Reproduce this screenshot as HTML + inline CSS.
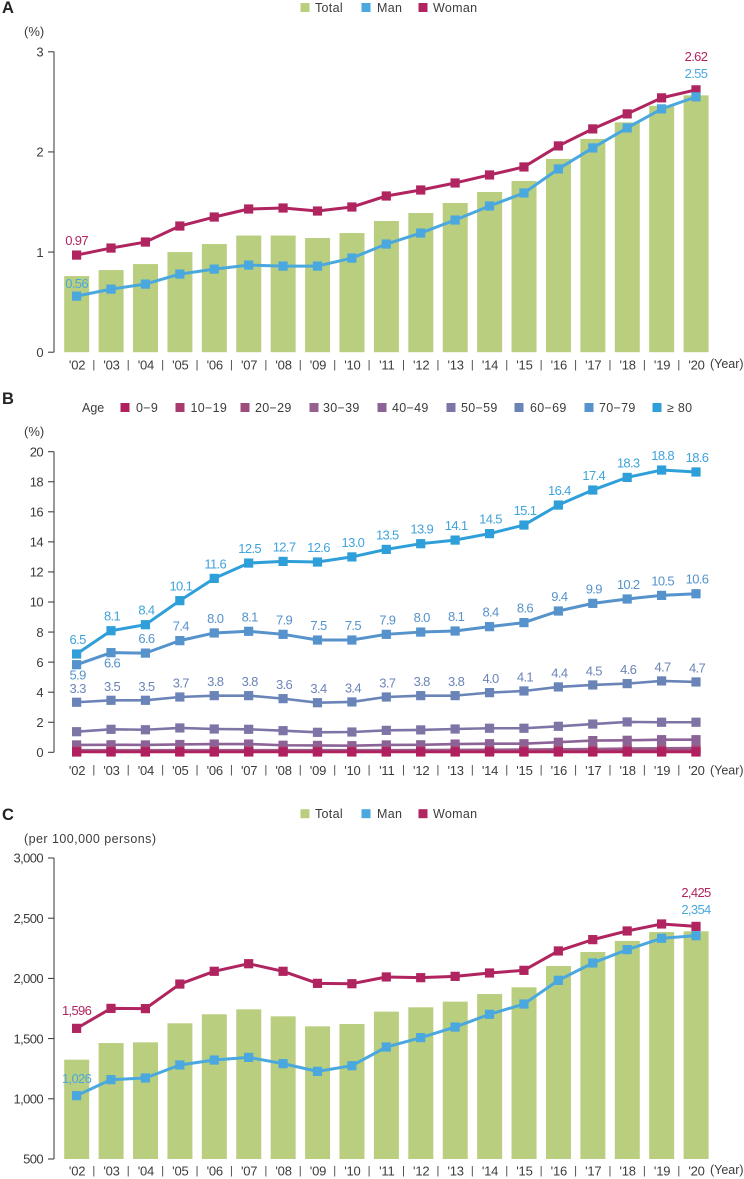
<!DOCTYPE html>
<html lang="en">
<head>
<meta charset="utf-8">
<title>Trends by sex and age</title>
<style>
html,body{margin:0;padding:0;background:#fff;}
body{width:744px;height:1179px;overflow:hidden;}
svg{display:block;font-family:"Liberation Sans",Arial,sans-serif;}
</style>
</head>
<body>
<svg id="figure" width="744" height="1179" viewBox="0 0 744 1179" xmlns="http://www.w3.org/2000/svg">
  <text x="2" y="13" font-size="16.5" font-weight="bold" fill="#222">A</text>
  <text x="2" y="404" font-size="16.5" font-weight="bold" fill="#222">B</text>
  <text x="2" y="820" font-size="16.5" font-weight="bold" fill="#222">C</text>
  <text x="24" y="36" font-size="13" fill="#3c3c3c">(%)</text>
  <text x="24" y="436" font-size="13" fill="#3c3c3c">(%)</text>
  <text x="24" y="843" font-size="12.5" letter-spacing="0.45" fill="#3c3c3c">(per 100,000 persons)</text>
  <text x="82" y="412" font-size="12.5" fill="#3c3c3c">Age</text>
  <g id="layer"></g>
</svg>
<script>
// Shared categories
const years = ["'02","'03","'04","'05","'06","'07","'08","'09","'10","'11","'12","'13","'14","'15","'16","'17","'18","'19","'20"];

// Panel A (%)
const aTicks = [0,1,2,3];
const aTotal = [0.76,0.82,0.88,1.0,1.08,1.165,1.165,1.14,1.19,1.31,1.39,1.49,1.6,1.71,1.93,2.13,2.295,2.46,2.565];
const aWoman = [0.97,1.04,1.1,1.26,1.35,1.43,1.44,1.41,1.45,1.56,1.62,1.69,1.77,1.85,2.06,2.23,2.38,2.54,2.62];
const aMan = [0.56,0.63,0.68,0.78,0.83,0.87,0.86,0.86,0.94,1.08,1.19,1.32,1.46,1.59,1.83,2.04,2.24,2.43,2.55];

// Panel B (%)
const bTicks = [0,2,4,6,8,10,12,14,16,18,20];
const ageGroups = ["0-9","10-19","20-29","30-39","40-49","50-59","60-69","70-79","≥ 80"];
const age0 = [0.02,0.02,0.02,0.02,0.02,0.02,0.02,0.02,0.02,0.02,0.02,0.02,0.02,0.02,0.02,0.02,0.02,0.02,0.02];
const age10 = [0.04,0.04,0.04,0.04,0.04,0.04,0.04,0.04,0.04,0.04,0.04,0.04,0.05,0.05,0.06,0.06,0.07,0.07,0.07];
const age20 = [0.08,0.08,0.08,0.08,0.08,0.08,0.08,0.08,0.08,0.08,0.09,0.09,0.1,0.1,0.11,0.12,0.13,0.14,0.14];
const age30 = [0.14,0.14,0.14,0.14,0.14,0.14,0.14,0.14,0.14,0.14,0.15,0.16,0.17,0.18,0.2,0.22,0.25,0.27,0.28];
const age40 = [0.49,0.5,0.49,0.52,0.55,0.55,0.47,0.46,0.44,0.49,0.5,0.55,0.57,0.57,0.67,0.78,0.8,0.84,0.84];
const age50 = [1.37,1.53,1.5,1.62,1.55,1.53,1.44,1.33,1.35,1.46,1.49,1.55,1.6,1.6,1.73,1.88,2.02,2.0,2.0];
const age60 = [3.33,3.46,3.46,3.68,3.77,3.77,3.57,3.3,3.35,3.68,3.77,3.77,3.97,4.08,4.35,4.48,4.57,4.75,4.68];
const age70 = [5.83,6.63,6.6,7.43,7.94,8.05,7.85,7.47,7.47,7.85,8.0,8.07,8.36,8.63,9.4,9.91,10.2,10.44,10.55];
const age80 = [6.54,8.09,8.49,10.09,11.57,12.59,12.7,12.66,13.0,13.5,13.88,14.12,14.55,15.12,16.45,17.45,18.29,18.78,18.65];
const age60Labels = ["3.3","3.5","3.5","3.7","3.8","3.8","3.6","3.4","3.4","3.7","3.8","3.8","4.0","4.1","4.4","4.5","4.6","4.7","4.7"];
const age70Labels = ["5.9","6.6","6.6","7.4","8.0","8.1","7.9","7.5","7.5","7.9","8.0","8.1","8.4","8.6","9.4","9.9","10.2","10.5","10.6"];
const age80Labels = ["6.5","8.1","8.4","10.1","11.6","12.5","12.7","12.6","13.0","13.5","13.9","14.1","14.5","15.1","16.4","17.4","18.3","18.8","18.6"];

// Panel C (per 100,000 persons)
const cTicks = [500,1000,1500,2000,2500,3000];
const cTotal = [1325,1463,1469,1627,1702,1743,1685,1602,1621,1724,1760,1807,1870,1926,2103,2219,2311,2385,2391];
const cWoman = [1585,1751,1749,1953,2059,2122,2059,1959,1956,2012,2006,2017,2045,2067,2228,2322,2394,2452,2432];
const cMan = [1026,1159,1173,1281,1322,1344,1292,1228,1275,1430,1508,1596,1702,1787,1984,2128,2239,2333,2355];

const NS = 'http://www.w3.org/2000/svg';
const layer = document.getElementById('layer');
const GREEN = '#b9ce7f', BLUE = '#4ba8de', RED = '#b0245f', INK = '#3c3c3c';
const ageColors = ['#b0205f','#a93a6e','#9d4d7d','#96608f','#8c6396','#7e74a6','#6b84b8','#5692cb','#2f9fd9'];
const ageSeries = [age0,age10,age20,age30,age40,age50,age60,age70,age80];

function el(tag, attrs, text){
  const e = document.createElementNS(NS, tag);
  for (const k in attrs) e.setAttribute(k, attrs[k]);
  if (text !== undefined) e.textContent = text;
  layer.appendChild(e);
  return e;
}
const xPos = i => 76.6 + i * (696 - 76.6) / (years.length - 1);
function scale(dMin, dMax, pxBottom, pxTop){
  return v => pxBottom - (v - dMin) / (dMax - dMin) * (pxBottom - pxTop);
}
function fmt(v){ return v.toLocaleString('en-US'); }

function drawAxes(prefix, ticks, y, sepTop, sepBottom, labelBase, yearBase){
  const axis = el('line', {x1:54, x2:54, y1:y(ticks[ticks.length-1]), y2:y(ticks[0]), stroke:'#333', 'stroke-width':1});
  
  
  ticks.forEach(t => {
    const m = el('line', {x1:48, x2:54, y1:y(t), y2:y(t), stroke:'#333', 'stroke-width':1});
    
    
    const l = el('text', {x:43, y:y(t)+4.7, 'font-size':13, 'letter-spacing':-0.6, 'text-anchor':'end', fill:INK}, fmt(t));
    
    
  });
  years.forEach((yr, i) => {
    const l = el('text', {x:xPos(i)+0.5, y:labelBase, 'font-size':13, 'letter-spacing':-0.2, 'text-anchor':'middle', fill:INK}, yr);
    
    
    if (i < years.length - 1) {
      const sx = (xPos(i) + xPos(i+1)) / 2;
      const s = el('line', {x1:sx, x2:sx, y1:sepTop, y2:sepBottom, stroke:'#555', 'stroke-width':1});
      
      
    }
  });
  const yl = el('text', {x:710, y:yearBase, 'font-size':12.5, fill:INK}, '(Year)');
  
  
}

function drawBars(prefix, values, y, base){
  values.forEach((v, i) => {
    const b = el('rect', {x:xPos(i)-12.4, y:y(v), width:25, height:y(base)-y(v), fill:GREEN});
    
    
  });
}

function drawLine(prefix, name, values, y, color, width){
  const pts = values.map((v, i) => xPos(i).toFixed(2) + ',' + y(v).toFixed(2)).join(' ');
  const p = el('polyline', {points:pts, fill:'none', stroke:color, 'stroke-width':width, 'stroke-linejoin':'round'});
  
  
  values.forEach((v, i) => {
    const r = el('rect', {x:xPos(i)-4.6, y:y(v)-4.6, width:9.2, height:9.2, fill:color});
    
    
  });
}

function label(prefix, x, yy, txt, color){
  const t = el('text', {x:x, y:yy, 'font-size':13, 'letter-spacing':-0.65, 'text-anchor':'middle', fill:color}, txt);
  
  
}

function legendItem(prefix, name, sx, tx, cy, color){
  const s = el('rect', {x:sx-4.5, y:cy-4.5, width:9, height:9, fill:color});
  
  
  const t = el('text', {x:tx, y:cy+4.5, 'font-size':12.5, 'letter-spacing':0.3, fill:INK}, name);
  
  
}

function sexLegend(prefix, cy){
  legendItem(prefix, 'Total', 305, 315, cy, GREEN);
  legendItem(prefix, 'Man', 366, 377, cy, BLUE);
  legendItem(prefix, 'Woman', 423, 433, cy, RED);
}

// Panel A
const yA = scale(0, 3, 352.2, 51.8);
sexLegend('panel-a', 7.5);
drawAxes('panel-a', aTicks, yA, 360, 370.5, 369.5, 368);
drawBars('panel-a', aTotal, yA, 0);
drawLine('panel-a', 'woman', aWoman, yA, RED, 3);
drawLine('panel-a', 'man', aMan, yA, BLUE, 3);
label('panel-a', xPos(0), 245, '0.97', RED);
label('panel-a', xPos(0), 288, '0.56', BLUE);
label('panel-a', xPos(18), 61, '2.62', RED);
label('panel-a', xPos(18), 78, '2.55', BLUE);

// Panel B
const yB = scale(0, 20, 752.3, 451.7);
const ageSwatchX = [125,180,245,314,382,451,519,589,657];
const ageTextX = [136,190.5,255,323,392,461,530,599,667];
ageGroups.forEach((g, i) => legendItem('panel-b', g.replace('-', '\u2212'), ageSwatchX[i], ageTextX[i], 407.5, ageColors[i]));
drawAxes('panel-b', bTicks, yB, 765, 775.5, 775, 774.5);
for (let s = ageSeries.length - 1; s >= 0; s--) {
  drawLine('panel-b', 'age-' + (s * 10), ageSeries[s], yB, ageColors[s], s >= 7 ? 3 : 2.6);
}
age80Labels.forEach((t, i) => label('panel-b', xPos(i)+1, yB(age80[i])-10, t, '#3fa3dc'));
age70Labels.forEach((t, i) => {
  const below = i < 2;
  label('panel-b', xPos(i)+1, yB(age70[i]) + (below ? 15 : -10), t, ageColors[7]);
});
age60Labels.forEach((t, i) => label('panel-b', xPos(i)+1, yB(age60[i])-9.5, t, ageColors[6]));

// Panel C
const yC = scale(500, 3000, 1159, 858);
sexLegend('panel-c', 813.7);
drawAxes('panel-c', cTicks, yC, 1166, 1176.5, 1175.5, 1174);
drawBars('panel-c', cTotal, yC, 500);
drawLine('panel-c', 'woman', cWoman, yC, RED, 3);
drawLine('panel-c', 'man', cMan, yC, BLUE, 3);
label('panel-c', xPos(0), 1015, '1,596', RED);
label('panel-c', xPos(0), 1083, '1,026', BLUE);
label('panel-c', xPos(18), 897, '2,425', RED);
label('panel-c', xPos(18), 914, '2,354', BLUE);
</script>
</body>
</html>
